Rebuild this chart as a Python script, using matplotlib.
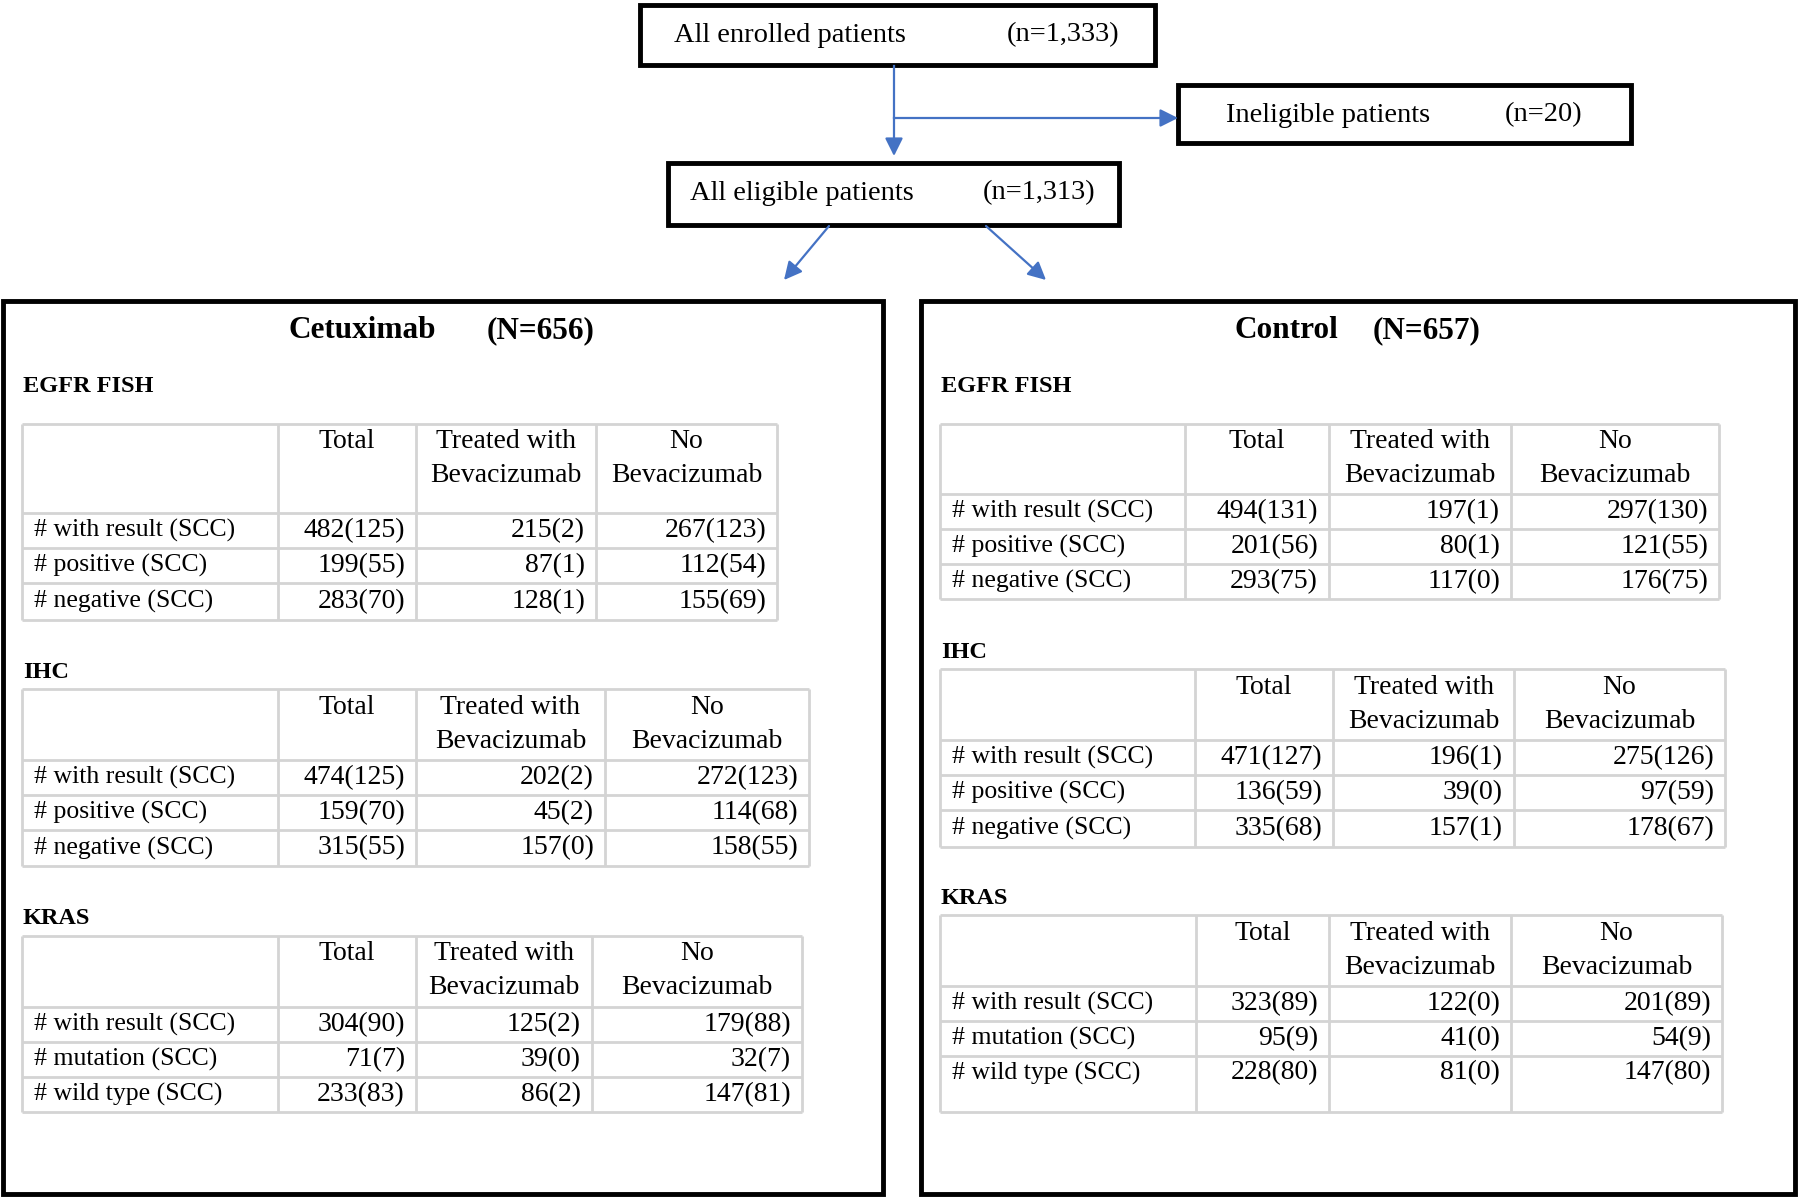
import matplotlib
matplotlib.use("Agg")
import matplotlib.pyplot as plt
from matplotlib.patches import Rectangle, FancyArrowPatch

FONT = "Liberation Serif"
FS_LAB = 18.5     # row labels
FS_NUM = 20       # numbers and column headers
FS_BOX = 20.5     # flow boxes
FS_TITLE = 22.5   # arm titles
FS_SEC = 17.5     # section labels
BLUE = "#4472C4"
GRID = "#d4d4d4"

# ---------------- data ----------------
enrolled_label, enrolled_n = "All enrolled patients", "(n=1,333)"
inelig_label, inelig_n = "Ineligible patients", "(n=20)"
elig_label, elig_n = "All eligible patients", "(n=1,313)"

arm_names = ["Cetuximab", "Control"]
arm_ns = ["(N=656)", "(N=657)"]
sections = ["EGFR FISH", "IHC", "KRAS"]
col_headers = ["Total", "Treated with\nBevacizumab", "No\nBevacizumab"]

fish_rows = ["# with result (SCC)", "# positive (SCC)", "# negative (SCC)"]
ihc_rows = ["# with result (SCC)", "# positive (SCC)", "# negative (SCC)"]
kras_rows = ["# with result (SCC)", "# mutation (SCC)", "# wild type (SCC)"]

cet_fish_total = ["482(125)", "199(55)", "283(70)"]
cet_fish_bev = ["215(2)", "87(1)", "128(1)"]
cet_fish_nobev = ["267(123)", "112(54)", "155(69)"]
cet_ihc_total = ["474(125)", "159(70)", "315(55)"]
cet_ihc_bev = ["202(2)", "45(2)", "157(0)"]
cet_ihc_nobev = ["272(123)", "114(68)", "158(55)"]
cet_kras_total = ["304(90)", "71(7)", "233(83)"]
cet_kras_bev = ["125(2)", "39(0)", "86(2)"]
cet_kras_nobev = ["179(88)", "32(7)", "147(81)"]

con_fish_total = ["494(131)", "201(56)", "293(75)"]
con_fish_bev = ["197(1)", "80(1)", "117(0)"]
con_fish_nobev = ["297(130)", "121(55)", "176(75)"]
con_ihc_total = ["471(127)", "136(59)", "335(68)"]
con_ihc_bev = ["196(1)", "39(0)", "157(1)"]
con_ihc_nobev = ["275(126)", "97(59)", "178(67)"]
con_kras_total = ["323(89)", "95(9)", "228(80)"]
con_kras_bev = ["122(0)", "41(0)", "81(0)"]
con_kras_nobev = ["201(89)", "54(9)", "147(80)"]

# ---------------- figure ----------------
fig = plt.figure(figsize=(18, 11.97), dpi=100)
ax = fig.add_axes([0, 0, 1, 1])
ax.set_xlim(0, 1800)
ax.set_ylim(1197, 0)
ax.axis("off")


def box(x0, y0, x1, y1, lw=3.5):
    ax.add_patch(Rectangle((x0, y0), x1 - x0, y1 - y0, fill=False,
                           edgecolor="black", linewidth=lw))


def arrow(p0, p1):
    ax.add_patch(FancyArrowPatch(p0, p1, arrowstyle="-|>,head_length=0.6,head_width=0.3",
                                 mutation_scale=18, color=BLUE, linewidth=1.6,
                                 shrinkA=0, shrinkB=0))


# top flow boxes
box(640, 5, 1155, 65)
ax.text(674, 35, enrolled_label, fontsize=FS_BOX, family=FONT, va="center", ha="left")
ax.text(1119, 35, enrolled_n, fontsize=FS_BOX, family=FONT, va="center", ha="right")

box(1178, 85, 1631, 143)
ax.text(1226, 115, inelig_label, fontsize=FS_BOX, family=FONT, va="center", ha="left")
ax.text(1582, 115, inelig_n, fontsize=FS_BOX, family=FONT, va="center", ha="right")

box(668, 163, 1119, 225)
ax.text(690, 193, elig_label, fontsize=FS_BOX, family=FONT, va="center", ha="left")
ax.text(1095, 193, elig_n, fontsize=FS_BOX, family=FONT, va="center", ha="right")

ax.plot([894, 894], [66, 118], color=BLUE, lw=1.6)
arrow((894, 117), (894, 156))
arrow((894, 118), (1178, 118))
arrow((829, 226), (784, 280))
arrow((986, 226), (1046, 280))

# arm boxes
box(3, 301, 883, 1194)
box(921, 301, 1795, 1194)


def table(cols, rows_y, row_labels, c1, c2, c3, last_tall=False):
    x0, x1 = cols[0], cols[-1]
    y0, y1 = rows_y[0], rows_y[-1]
    for y in rows_y:
        ax.plot([x0, x1], [y, y], color=GRID, lw=2, solid_capstyle="butt")
    for x in cols:
        ax.plot([x, x], [y0, y1], color=GRID, lw=2, solid_capstyle="butt")
    # headers
    for j, h in enumerate(col_headers):
        cx = (cols[j + 1] + cols[j + 2]) / 2
        for k, line in enumerate(h.split("\n")):
            ax.text(cx, y0 + 18 + k * 34, line, fontsize=FS_NUM, family=FONT,
                    ha="center", va="center")
    # body
    for i, lab in enumerate(row_labels):
        top, bot = rows_y[i + 1], rows_y[i + 2]
        cy = top + 17 if (last_tall and i == 2) else (top + bot) / 2
        ax.text(x0 + 12, cy, lab, fontsize=FS_LAB, family=FONT, ha="left", va="center")
        for j, vals in enumerate([c1, c2, c3]):
            ax.text(cols[j + 2] - 11, cy, vals[i], fontsize=FS_NUM, family=FONT,
                    ha="right", va="center")


def section(x, y, name):
    ax.text(x, y, name, fontsize=FS_SEC, family=FONT, weight="bold", ha="left", va="center")


# Cetuximab arm
ax.text(289, 331, arm_names[0], fontsize=FS_TITLE, family=FONT, weight="bold", ha="left", va="center")
ax.text(594, 331, arm_ns[0], fontsize=FS_TITLE, family=FONT, weight="bold", ha="right", va="center")
section(23, 386, sections[0])
table([22, 278, 416, 596, 777], [424, 513, 548, 583, 620], fish_rows,
      cet_fish_total, cet_fish_bev, cet_fish_nobev)
section(23, 672, sections[1])
table([22, 278, 416, 605, 809], [689, 760, 795, 830, 866], ihc_rows,
      cet_ihc_total, cet_ihc_bev, cet_ihc_nobev)
section(23, 918, sections[2])
table([22, 278, 416, 592, 802], [936, 1007, 1042, 1077, 1112], kras_rows,
      cet_kras_total, cet_kras_bev, cet_kras_nobev)

# Control arm
ax.text(1235, 331, arm_names[1], fontsize=FS_TITLE, family=FONT, weight="bold", ha="left", va="center")
ax.text(1480, 331, arm_ns[1], fontsize=FS_TITLE, family=FONT, weight="bold", ha="right", va="center")
section(941, 386, sections[0])
table([940, 1185, 1329, 1511, 1719], [424, 494, 529, 564, 599], fish_rows,
      con_fish_total, con_fish_bev, con_fish_nobev)
section(941, 652, sections[1])
table([940, 1195, 1333, 1514, 1725], [669, 740, 775, 810, 847], ihc_rows,
      con_ihc_total, con_ihc_bev, con_ihc_nobev)
section(941, 898, sections[2])
table([940, 1196, 1329, 1511, 1722], [915, 986, 1021, 1056, 1112], kras_rows,
      con_kras_total, con_kras_bev, con_kras_nobev, last_tall=True)

fig.savefig("out.png", dpi=100, facecolor="white")
